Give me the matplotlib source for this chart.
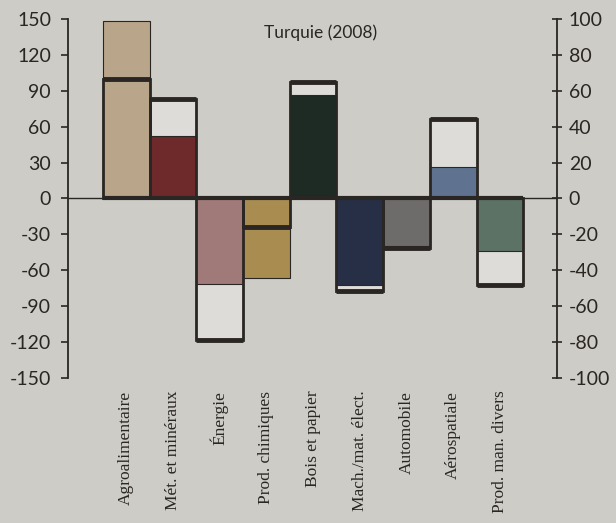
import numpy as np
import matplotlib.pyplot as plt

plt.rcParams["axes.unicode_minus"] = False

# data (left axis scale)
categories = ["Agroalimentaire", "Mét. et minéraux", "Énergie", "Prod. chimiques",
              "Bois et papier", "Mach./mat. élect.", "Automobile", "Aérospatiale",
              "Prod. man. divers"]
fill_values = [148, 52, -71, -66, 86, -72, -40, 26, -44]
box_values = [100, 83, -118, -24, 97, -77, -41, 66, -72]
left_ticks = [150, 120, 90, 60, 30, 0, -30, -60, -90, -120, -150]
right_ticks = [100, 80, 60, 40, 20, 0, -20, -40, -60, -80, -100]

fill_colors = ["#b9a68a", "#6e2a2a", "#a07a78", "#a88c50", "#1e2a24",
               "#262f45", "#6d6c6a", "#5f7391", "#5b7264"]
bg = "#cdccc7"
box_bg = "#dddcd8"
dark = "#2a2623"

fig = plt.figure(figsize=(6.16, 5.23), dpi=100, facecolor=bg)
ax = fig.add_axes([0.110, 0.277, 0.794, 0.687])
ax.set_facecolor(bg)

x = np.arange(len(categories))
# light box behind, then coloured bar, then thick outline on top
ax.bar(x, box_values, width=1, color=box_bg, linewidth=0, zorder=1)
ax.bar(x, fill_values, width=1, color=fill_colors, edgecolor=dark, linewidth=0.8, zorder=2)
ax.bar(x, box_values, width=1, fill=False, edgecolor=dark, linewidth=2, zorder=3)
ax.hlines(box_values, x - 0.5, x + 0.5, colors=dark, linewidth=3.5, zorder=4)
ax.hlines(0, x[0] - 0.5, x[-1] + 0.5, colors=dark, linewidth=3, zorder=4)
ax.axhline(0, color=dark, linewidth=1, zorder=0)

ax.set_xlim(-1.25, 9.22)
ax.set_ylim(-150, 150)
ax.set_yticks(left_ticks)
ax.tick_params(axis="y", direction="out", length=5, width=1.2, color=dark, pad=7,
               labelsize=14, labelcolor="#2a2623")
for lab in ax.get_yticklabels():
    lab.set_family("Lato")

ax.set_xticks(x)
ax.set_xticklabels(categories, rotation=90, family="Liberation Serif", fontsize=12.5,
                   color="#2a2623")
ax.tick_params(axis="x", length=0, pad=9)

for s in ["top", "bottom", "right"]:
    ax.spines[s].set_visible(False)
ax.spines["left"].set_color(dark)
ax.spines["left"].set_linewidth(1.3)

ax2 = ax.twinx()
ax2.set_ylim(-100, 100)
ax2.set_yticks(right_ticks)
ax2.tick_params(axis="y", direction="inout", length=7, width=1.2, color=dark, pad=5,
                labelsize=14, labelcolor="#2a2623")
for lab in ax2.get_yticklabels():
    lab.set_family("Lato")
for s in ["top", "bottom", "left"]:
    ax2.spines[s].set_visible(False)
ax2.spines["right"].set_color(dark)
ax2.spines["right"].set_linewidth(1.3)

ax.text(0.516, 0.962, "Turquie (2008)", transform=ax.transAxes, ha="center",
        va="center", family="Lato", fontsize=12.5, color="#2a2623")

fig.savefig("out.png", dpi=100, facecolor=bg)
